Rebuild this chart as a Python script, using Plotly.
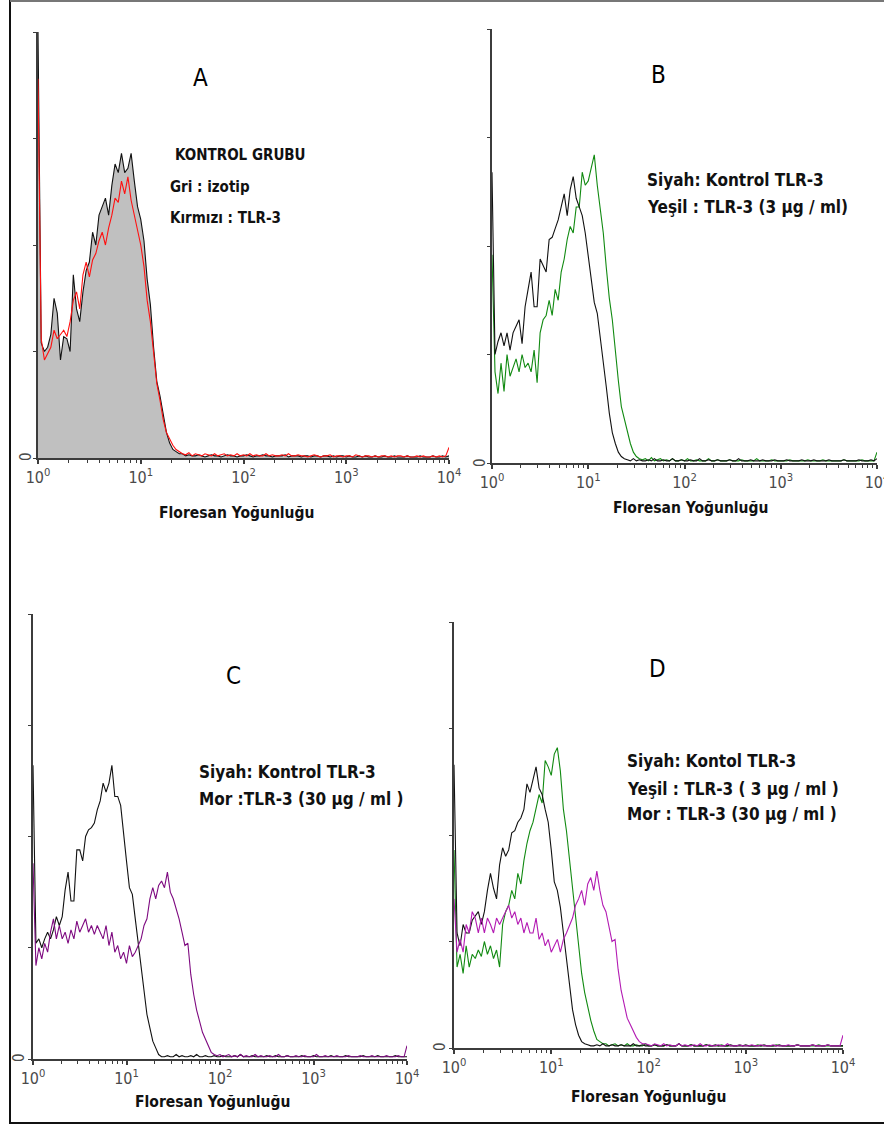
import numpy as np
import plotly.graph_objects as go

W, H = 884, 1127

# Channel layout of the histograms: 32 channels per decade, 10^0 .. 10^4
CH_PER_DECADE = 32

DECADE_TICKS = [1, 10, 100, 1000, 10000]
DECADE_LABELS = ["10<sup>0</sup>", "10<sup>1</sup>", "10<sup>2</sup>", "10<sup>3</sup>", "10<sup>4</sup>"]

# ---- Panel A: control group (grey = isotype, red = TLR-3) ----
A_ISOTYPE = [200, 54, 50, 52, 58, 75, 68, 46, 57, 56,
             50, 86, 70, 64, 78, 88, 92, 106, 100, 114,
             118, 122, 114, 128, 138, 134, 143, 134, 136, 143,
             130, 118, 112, 102, 84, 72, 52, 36, 29, 20,
             12, 7, 4, 3, 2] + \
            [2, 1, 1.5, 1, 1, 1.5, 1, 0.5, 1, 1.5,
             1, 1, 0.5, 1, 1.5, 1, 1, 0.5, 1, 1,
             1.5, 1, 0.5, 1, 1, 1.5, 1, 1, 0.5, 1,
             1, 1, 1.5, 0.5, 1, 1, 1, 0.5, 1, 1,
             0.5, 1, 1, 0.5, 1, 1, 0.5, 1, 0.5, 1,
             1, 0.5, 1, 0.5, 0.5, 1, 0.5, 1, 0.5, 0.5,
             1, 0.5, 0.5, 1, 0.5, 0.5, 1, 0.5, 0.5, 0.5,
             1, 0.5, 0.5, 0.5, 1, 0.5, 0.5, 0.5, 1, 0.5,
             0.5, 1, 0.5, 1]

A_TLR3 = [178, 56, 46, 49, 52, 60, 56, 58, 60, 57,
          64, 74, 78, 70, 86, 92, 85, 93, 96, 102,
          106, 100, 108, 114, 122, 120, 130, 124, 132, 121,
          114, 108, 100, 90, 74, 64, 49, 35, 27, 18,
          12, 9, 6, 4, 3] + \
         [2, 1.5, 2.5, 1, 2, 1.5, 1, 2, 1.5, 1,
          2, 1, 1.5, 2, 1, 1.5, 1, 2, 1, 1.5,
          1, 2, 1, 1.5, 1, 1, 2, 1, 1.5, 1,
          1, 1.5, 1, 2, 1, 1, 1.5, 1, 1, 0.5,
          1, 1.5, 1, 0.5, 1, 1, 1.5, 0.5, 1, 1,
          0.5, 1, 1, 0.5, 1.5, 1, 0.5, 1, 1, 0.5,
          1, 0.5, 1, 1, 0.5, 1, 0.5, 1, 1, 0.5,
          1, 0.5, 0.5, 1, 0.5, 1, 0.5, 0.5, 1, 0.5,
          1, 0.5, 1, 5]

# ---- Panel B: black = control TLR-3, green = TLR-3 (3 ug/ml) ----
B_CONTROL = [134, 50, 56, 60, 54, 60, 52, 60, 63, 66,
             55, 72, 80, 88, 72, 72, 94, 91, 88, 103,
             104, 108, 112, 118, 124, 114, 126, 132, 122, 118,
             114, 106, 95, 83, 74, 69, 58, 48, 35, 23,
             14, 9, 5, 3, 2] + \
            [1.5, 1, 2, 1, 1.5, 1, 1, 1.5, 1, 2,
             1, 1, 1.5, 1, 1, 2, 1, 1, 1.5, 1,
             1, 1.5, 1, 1, 2, 1, 1, 1.5, 1, 1,
             1.5, 1, 1, 1, 1.5, 1, 1, 2, 1, 1,
             1, 1.5, 1, 1, 1, 1.5, 1, 1, 1, 1.5,
             1, 1, 1, 1.5, 1, 1, 1, 1, 1.5, 1,
             1, 1, 1.5, 1, 1, 1, 1, 1.5, 1, 1,
             1, 1, 1.5, 1, 1, 1, 1, 1.5, 1, 1,
             1, 1.5, 1, 2]

B_3UG = [96, 42, 32, 46, 33, 50, 40, 44, 48, 42,
         50, 44, 46, 42, 52, 37, 60, 66, 68, 75,
         68, 80, 75, 88, 94, 103, 109, 106, 118, 118,
         134, 128, 130, 136, 142, 128, 116, 106, 90, 76,
         66, 50, 38, 26, 20, 14, 9, 5, 3, 2] + \
        [1.5, 2, 1, 2.5, 1, 1.5, 2, 1, 1.5, 1,
         2, 1, 1, 1.5, 1, 2, 1, 1, 1.5, 1,
         1, 1, 2, 1, 1, 1.5, 1, 1, 1, 1.5,
         1, 1, 1, 1.5, 1, 1, 1, 1, 2, 1,
         1, 1, 1, 1.5, 1, 1, 1, 1, 1, 1.5,
         1, 1, 1, 1, 1, 1.5, 1, 1, 1, 1,
         1.5, 1, 1, 1, 1, 1, 1, 1.5, 1, 1,
         1, 1, 1, 1.5, 1, 1, 1, 1, 5]

# ---- Panel C: black = control TLR-3, purple = TLR-3 (30 ug/ml) ----
C_CONTROL = [132, 52, 54, 50, 54, 57, 54, 58, 64, 60,
             64, 76, 84, 71, 71, 94, 94, 89, 100, 103,
             104, 106, 112, 116, 124, 120, 124, 132, 118, 118,
             114, 100, 89, 77, 74, 63, 52, 42, 31, 20,
             14, 8, 5, 2, 1] + \
            [1, 1.5, 1, 1, 2, 1, 1.5, 1, 1, 1.5,
             1, 2, 1, 1, 1.5, 1, 1, 1.5, 1, 1,
             1.5, 1, 1, 1, 1.5, 1, 2, 1, 1, 1,
             1.5, 1, 1, 1, 1, 1.5, 1, 1, 1.5, 1,
             1, 1, 1.5, 1, 1, 1, 1, 1.5, 1, 1,
             1, 1.5, 1, 1, 1, 1, 1, 1.5, 1, 1,
             1, 1, 1.5, 1, 1, 1, 1, 1, 1.5, 1,
             1, 1, 1, 1.5, 1, 1, 1, 1, 1, 1.5,
             1, 1, 1, 1]

C_30UG = [88, 42, 50, 45, 52, 48, 57, 63, 54, 60,
          54, 57, 52, 58, 54, 62, 57, 60, 63, 57,
          60, 56, 60, 57, 54, 60, 51, 57, 48, 51,
          45, 48, 43, 51, 46, 48, 51, 54, 60, 63,
          72, 77, 72, 78, 80, 77, 84, 75, 72, 68,
          63, 57, 51, 52, 38, 29, 22, 17, 12, 9,
          6, 3, 2] + \
         [1.5, 2, 1, 1.5, 2, 1, 1.5, 1, 2, 1,
          1.5, 1, 1, 2, 1, 1.5, 1, 1, 1.5, 1,
          1, 2, 1, 1, 1.5, 1, 1, 1.5, 1, 1,
          1.5, 1, 1, 1, 2, 1, 1, 1.5, 1, 1,
          1, 1.5, 1, 1, 1, 1.5, 1, 1, 1, 1.5,
          1, 1, 1, 1.5, 1, 1, 1, 1, 1.5, 1,
          1, 1, 1.5, 1, 1, 6]

# ---- Panel D: black = control, green = 3 ug/ml, purple = 30 ug/ml ----
D_CONTROL = [133, 54, 48, 58, 54, 54, 60, 62, 64, 58,
             64, 74, 82, 75, 70, 86, 94, 90, 93, 101,
             102, 106, 108, 112, 124, 120, 126, 132, 122, 119,
             112, 106, 93, 78, 74, 66, 54, 42, 28, 18,
             11, 6, 3, 2] + \
            [1.5, 1, 1, 1.5, 1, 2, 1, 1, 1.5, 1,
             1, 1.5, 1, 1, 1, 2, 1, 1, 1.5, 1,
             1, 1, 1.5, 1, 1, 1, 1.5, 1, 1, 1,
             2, 1, 1, 1, 1.5, 1, 1, 1, 1, 1.5,
             1, 1, 1.5, 1, 1, 1, 1, 1.5, 1, 1,
             1, 1, 1.5, 1, 1, 1, 1, 1, 1.5, 1,
             1, 1, 1, 1.5, 1, 1, 1, 1, 1, 1.5,
             1, 1, 1, 1, 1.5, 1, 1, 1, 1, 1.5,
             1, 1, 1, 1, 1]

D_3UG = [93, 38, 44, 35, 48, 38, 44, 42, 46, 43,
         50, 44, 48, 42, 46, 38, 58, 64, 67, 74,
         70, 82, 77, 88, 96, 102, 106, 112, 119, 115,
         135, 132, 128, 138, 141, 130, 112, 102, 88, 74,
         61, 48, 35, 26, 19, 13, 8, 4, 3, 2] + \
        [2, 1, 1.5, 2, 1, 1.5, 1, 2, 1, 1,
         1.5, 1, 1, 2, 1, 1, 1.5, 1, 1, 1,
         1.5, 1, 1, 1, 2, 1, 1, 1, 1.5, 1,
         1, 1, 1, 1.5, 1, 1, 1, 1, 1.5, 1,
         1, 1, 1, 1, 1.5, 1, 1, 1, 1, 1,
         1.5, 1, 1, 1, 1, 1, 1.5, 1, 1, 1,
         1, 1, 1, 1.5, 1, 1, 1, 1, 1, 1,
         1.5, 1, 1, 1, 1, 1, 1, 1, 1]

D_30UG = [70, 45, 51, 45, 58, 54, 64, 61, 54, 61,
          54, 61, 58, 54, 61, 58, 61, 64, 67, 61,
          64, 58, 61, 54, 59, 54, 54, 61, 51, 54,
          48, 51, 45, 48, 51, 45, 51, 54, 58, 61,
          67, 70, 74, 67, 77, 80, 74, 83, 74, 67,
          64, 56, 50, 51, 37, 27, 21, 14, 11, 8,
          5, 3, 2] + \
         [2, 1.5, 1, 2, 1.5, 1, 2, 1, 1.5, 1,
          1, 2, 1, 1.5, 1, 1, 1.5, 1, 2, 1,
          1, 1.5, 1, 1, 1.5, 1, 1, 2, 1, 1,
          1, 1.5, 1, 1, 1, 1.5, 1, 1, 1.5, 1,
          1, 1, 1.5, 1, 1, 1, 1, 1.5, 1, 1,
          1.5, 1, 1, 1, 1, 1.5, 1, 1, 1, 1,
          1.5, 1, 1, 1, 1, 6]

# ---- styling ----
NARROW = "DejaVu Sans Condensed, Liberation Sans Narrow, Arial Narrow, sans-serif"
AXIS_COLOR = "#3c3c3c"
BLACK = "#111111"
RED = "#ff1010"
GREEN = "#118a11"
PURPLE_C = "#7e0a80"
PURPLE_D = "#b31bb3"
ISO_FILL = "#c0c0c0"

# panel frames in pixels: (x_left, x_right, y_top, y_bottom)
PANELS = {
    "A": (38, 449, 32, 458),
    "B": (492, 877, 29, 463),
    "C": (33, 407, 614, 1059),
    "D": (454, 843, 622, 1048),
}


def px(x):
    return x / W


def py(y):
    return 1 - y / H


fig = go.Figure()


def channel_x(vals):
    return 10 ** (np.arange(len(vals)) / CH_PER_DECADE)


def add_hist(vals, color, idx, fill=None, width=1.1):
    sfx = "" if idx == 1 else str(idx)
    kw = {}
    if fill:
        kw = dict(fill="tozeroy", fillcolor=fill)
    fig.add_trace(go.Scatter(
        x=channel_x(vals), y=vals, mode="lines",
        line=dict(color=color, width=width, shape="linear"),
        xaxis="x" + sfx, yaxis="y" + sfx, showlegend=False,
        hoverinfo="skip", **kw))


add_hist(A_ISOTYPE, BLACK, 1, fill=ISO_FILL)
add_hist(A_TLR3, RED, 1)
add_hist(B_3UG, GREEN, 2)
add_hist(B_CONTROL, BLACK, 2)
add_hist(C_CONTROL, BLACK, 3)
add_hist(C_30UG, PURPLE_C, 3)
add_hist(D_3UG, GREEN, 4)
add_hist(D_CONTROL, BLACK, 4)
add_hist(D_30UG, PURPLE_D, 4)

layout = dict(width=W, height=H,
              margin=dict(l=0, r=0, t=0, b=0, autoexpand=False),
              paper_bgcolor="white", plot_bgcolor="rgba(0,0,0,0)",
              showlegend=False)

for i, key in enumerate(["A", "B", "C", "D"], start=1):
    x0, x1, yt, yb = PANELS[key]
    sfx = "" if i == 1 else str(i)
    layout["xaxis" + sfx] = dict(
        type="log", range=[0, 4], domain=[px(x0), px(x1)], anchor="y" + sfx,
        showline=True, linecolor=AXIS_COLOR, linewidth=2, mirror=False,
        ticks="outside", ticklen=4, tickwidth=1.5, tickcolor=AXIS_COLOR,
        tickmode="array", tickvals=DECADE_TICKS, ticktext=DECADE_LABELS,
        tickfont=dict(family=NARROW, size=16, color="#4a4a4a"),
        ticklabeloverflow="allow",
        minor=dict(ticks="outside", ticklen=3, tickwidth=1.2,
                   tickcolor=AXIS_COLOR, dtick="D1", showgrid=False),
        showgrid=False, zeroline=False, fixedrange=True, automargin=False)
    layout["yaxis" + sfx] = dict(
        range=[0, 200], domain=[py(yb), py(yt)], anchor="x" + sfx,
        showline=True, linecolor=AXIS_COLOR, linewidth=2,
        ticks="outside", ticklen=3, tickwidth=1.2, tickcolor=AXIS_COLOR,
        tickmode="linear", tick0=0, dtick=50, showticklabels=False,
        showgrid=False, zeroline=False, fixedrange=True, automargin=False)

fig.update_layout(**layout)

annotations = []


def text(x, y, s, size=16, bold=True, anchor="left", angle=0, color="#111111"):
    annotations.append(dict(
        x=px(x), y=py(y), xref="paper", yref="paper", text=s, showarrow=False,
        xanchor=anchor, yanchor="middle", textangle=angle,
        font=dict(family=NARROW, size=size, color=color,
                  weight="bold" if bold else "normal")))


# panel letters
for letter, (lx, ly) in {"A": (200, 78), "B": (658, 75),
                         "C": (233, 676), "D": (657, 669)}.items():
    text(lx, ly, letter, size=24, bold=False, anchor="center", color="#000000")

# panel legends
text(173, 155, "KONTROL GRUBU", size=15)
text(168, 187, "Gri : izotip", size=15)
text(168, 218, "Kırmızı : TLR-3", size=15)

text(645, 180, "Siyah: Kontrol TLR-3", size=17)
text(645, 207, "Yeşil : TLR-3 (3 µg / ml)", size=17)

text(197, 772, "Siyah: Kontrol TLR-3", size=17)
text(197, 799, "Mor :TLR-3 (30 µg / ml )", size=17)

text(625, 761, "Siyah: Kontol TLR-3", size=17)
text(625, 789, "Yeşil : TLR-3 ( 3 µg / ml )", size=17)
text(625, 814, "Mor : TLR-3 (30 µg / ml )", size=17)

# x-axis titles
for cx, cy in [(236, 513), (690, 508), (212, 1102), (648, 1097)]:
    text(cx, cy, "Floresan Yoğunluğu", size=15.5, anchor="center")

# rotated zero labels at the foot of each count axis
for zx, zy in [(26, 457), (480, 462), (19, 1058), (440, 1047)]:
    text(zx, zy, "0", size=15, bold=False, anchor="center", angle=-90,
         color="#4a4a4a")

fig.update_layout(annotations=annotations)

# outer frame of the figure
frame = [
    dict(x0=px(10), x1=px(10), y0=py(0), y1=py(1124), color="#111111"),
    dict(x0=px(10), x1=1.0, y0=py(1), y1=py(1), color="#777777"),
    dict(x0=px(10), x1=1.0, y0=py(1123), y1=py(1123), color="#111111"),
]
fig.update_layout(shapes=[dict(type="line", xref="paper", yref="paper",
                               x0=f["x0"], x1=f["x1"], y0=f["y0"], y1=f["y1"],
                               line=dict(color=f["color"], width=2))
                          for f in frame])

fig.write_html("out.html")
